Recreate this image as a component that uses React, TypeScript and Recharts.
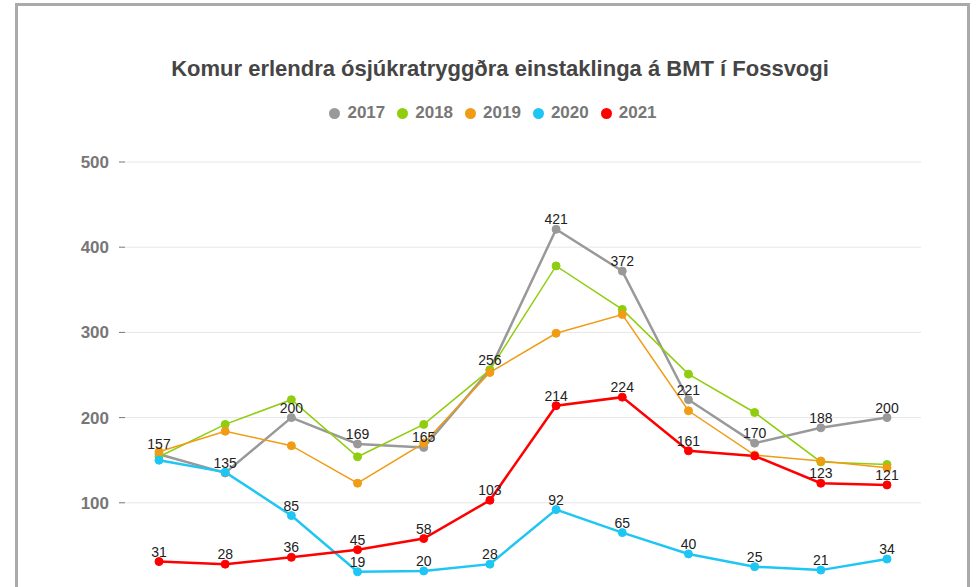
import { LineChart, Line, XAxis, YAxis, CartesianGrid, Legend, LabelList } from "recharts";

const months = ["jan", "feb", "mar", "apr", "maí", "jún", "júl", "ágú", "sep", "okt", "nóv", "des"];
const y2017 = [157, 135, 200, 169, 165, 256, 421, 372, 221, 170, 188, 200];
const y2018 = [154, 192, 221, 154, 192, 256, 378, 327, 251, 206, 148, 145];
const y2019 = [160, 184, 167, 123, 170, 253, 299, 321, 208, 156, 149, 141];
const y2020 = [150, 136, 85, 19, 20, 28, 92, 65, 40, 25, 21, 34];
const y2021 = [31, 28, 36, 45, 58, 103, 214, 224, 161, 155, 123, 121];
// the 0 tick sits below the visible crop
const yTicks = [100, 200, 300, 400, 500];

// points whose value label is not shown
const hidden2020 = [0, 1];
const hidden2021 = [9];

const series = [
  { key: "2017", values: y2017, color: "#999999", width: 2.5, labels: true, hide: [] as number[] },
  { key: "2018", values: y2018, color: "#8fce0e", width: 1.5, labels: false, hide: [] as number[] },
  { key: "2019", values: y2019, color: "#f09c14", width: 1.5, labels: false, hide: [] as number[] },
  { key: "2020", values: y2020, color: "#1ec6f4", width: 2.5, labels: true, hide: hidden2020 },
  { key: "2021", values: y2021, color: "#ff0000", width: 2.5, labels: true, hide: hidden2021 },
];

const data = months.map((month, i) => {
  const row: Record<string, string | number | null> = { month };
  series.forEach((s) => {
    row[s.key] = s.values[i];
    row["lbl" + s.key] = s.labels && !s.hide.includes(i) ? s.values[i] : null;
  });
  return row;
});

function LegendContent() {
  return (
    <div style={{ display: "flex", justifyContent: "center", paddingLeft: 22, alignItems: "center" }}>
      {series.map((s) => (
        <div key={s.key} style={{ display: "flex", alignItems: "center", marginRight: 12 }}>
          <span
            style={{ width: 11, height: 11, borderRadius: "50%", background: s.color, display: "inline-block", marginRight: 7 }}
          />
          <span style={{ color: "#777", fontWeight: "bold", fontSize: 17 }}>{s.key}</span>
        </div>
      ))}
    </div>
  );
}

export default function App() {
  return (
    <div
      style={{
        position: "absolute",
        left: 0,
        top: 0,
        width: 976,
        height: 587,
        overflow: "hidden",
        background: "#fff",
        fontFamily: "'Liberation Sans', Arial, sans-serif",
      }}
    >
      <div
        style={{
          position: "absolute",
          left: 15,
          top: 3,
          width: 955,
          height: 700,
          border: "3px solid #aaaaaa",
          boxSizing: "border-box",
        }}
      />
      <div
        style={{
          position: "absolute",
          top: 56,
          left: 0,
          width: 976,
          paddingLeft: 24,
          boxSizing: "border-box",
          textAlign: "center",
          fontSize: 22,
          fontWeight: "bold",
          color: "#454545",
        }}
      >
        Komur erlendra ósjúkratryggðra einstaklinga á BMT í Fossvogi
      </div>
      <div style={{ position: "absolute", left: 0, top: 0 }}>
        <LineChart width={976} height={623} data={data} margin={{ top: 162, right: 55, bottom: 35, left: 0 }}>
          <CartesianGrid vertical={false} stroke="#e6e6e6" />
          <XAxis dataKey="month" padding={{ left: 34, right: 34 }} hide />
          <YAxis
            width={125}
            domain={[0, 500]}
            ticks={yTicks}
            axisLine={false}
            tickSize={6}
            tickMargin={10}
            tickLine={{ stroke: "#777" }}
            tick={{ fill: "#777", fontSize: 17, fontWeight: "bold" }}
          />
          <Legend
            layout="horizontal"
            verticalAlign="middle"
            align="center"
            wrapperStyle={{ top: 103, left: 0, width: 976 }}
            content={LegendContent}
          />
          {series.map((s) => (
            <Line
              key={s.key}
              dataKey={s.key}
              name={s.key}
              type="linear"
              stroke={s.color}
              strokeWidth={s.width}
              dot={{ r: 4, fill: s.color, stroke: s.color, strokeWidth: 1 }}
              activeDot={false}
              isAnimationActive={false}
            >
              {s.labels && <LabelList dataKey={"lbl" + s.key} position="top" fill="#222" fontSize={14} />}
            </Line>
          ))}
        </LineChart>
      </div>
    </div>
  );
}
